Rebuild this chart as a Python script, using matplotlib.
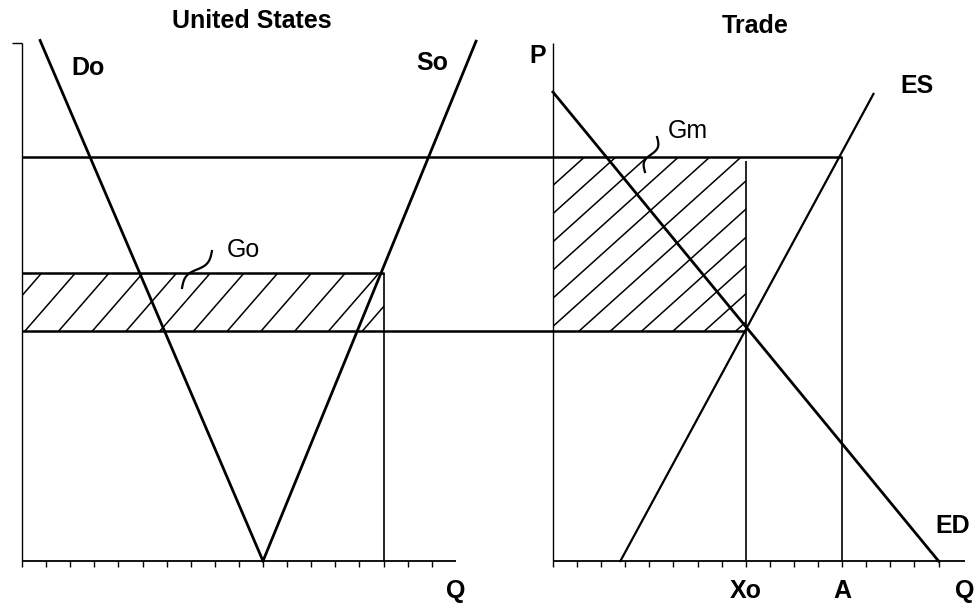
import numpy as np
import matplotlib.pyplot as plt
from matplotlib.patches import Rectangle

plt.rcParams['font.family'] = ['Liberation Sans', 'DejaVu Sans']

# quantities are in axis-tick units, prices use the same scale
us_demand_q = [0.75, 10.0]
us_demand_p = [21.6, 0.0]
us_supply_q = [10.0, 18.84]
us_supply_p = [0.0, 21.57]

ed_q = [0.0, 16.0]
ed_p = [19.46, 0.0]
es_q = [2.8, 13.3]
es_p = [0.0, 19.38]

p_high = 16.78      # top price line
p_support = 11.95   # US support price
p_world = 9.54      # free-trade price
q_support = 15.0    # US supply at support price
q_xo = 8.0
q_a = 12.0
p_axis_top = 21.5

us_ticks = np.arange(0, 18)
trade_ticks = np.arange(0, 17)

# layout: where the trade panel starts on the shared x scale
trade_x0 = 22.03
us_axis_end = 18.0
trade_axis_end = 17.1


def hatch(ax, x0, x1, y0, y1, slope, spacing, phase, lw=1.1):
    clip = Rectangle((x0, y0), x1 - x0, y1 - y0, fill=False, lw=0,
                     transform=ax.transData)
    ax.add_patch(clip)
    run = (y1 - y0) / slope
    start = phase - np.ceil((phase - (x0 - run)) / spacing) * spacing
    for c in np.arange(start, x1 + spacing, spacing):
        ln, = ax.plot([c, c + run], [y0, y1], color='k', lw=lw)
        ln.set_clip_path(clip)


def squiggle(ax, p0, p1, amp=0.17):
    t = np.linspace(0, 1, 60)
    p0, p1 = np.array(p0), np.array(p1)
    d = p1 - p0
    n = np.array([-d[1], d[0]]) / np.hypot(*d)
    pts = p0[:, None] + d[:, None] * t + n[:, None] * amp * np.sin(2 * np.pi * t)
    ax.plot(pts[0], pts[1], color='k', lw=1.6)


fig = plt.figure(figsize=(9.75, 6.04), dpi=100)
ax = fig.add_axes([0, 0, 1, 1])
ax.set_xlim(-22 / 24.1, 953 / 24.1)
ax.set_ylim(-43 / 24.1, 561 / 24.1)
ax.axis('off')

# axes of both panels
ax.vlines([0, trade_x0], 0, p_axis_top, color='k', lw=1.0)
ax.hlines(p_axis_top, -0.4, 0, color='k', lw=1.0)
ax.hlines(0, 0, us_axis_end, color='k', lw=1.3)
ax.hlines(0, trade_x0, trade_x0 + trade_axis_end, color='k', lw=1.3)
ax.plot(us_ticks, np.zeros(len(us_ticks)), ls='none', marker=3, ms=4,
        mew=1.0, color='k')
ax.plot(trade_x0 + trade_ticks, np.zeros(len(trade_ticks)), ls='none',
        marker=3, ms=4, mew=1.0, color='k')

# hatched areas
hatch(ax, 0, q_support, p_world, p_support, 1.15, 1.4, 0.12)
hatch(ax, trade_x0, trade_x0 + q_xo, p_world, p_high, 0.9, 1.3,
      trade_x0 + 1.33 - (p_high - p_world) / 0.9)

# price lines
ax.hlines(p_high, 0, trade_x0 + q_a, color='k', lw=1.8)
ax.hlines(p_support, 0, q_support, color='k', lw=1.8)
ax.hlines(p_world, 0, trade_x0 + q_xo, color='k', lw=1.8)
ax.vlines(q_support, 0, p_support, color='k', lw=1.2)
ax.vlines(trade_x0 + q_xo, 0, p_high - 0.2, color='k', lw=1.2)
ax.vlines(trade_x0 + q_a, 0, p_high, color='k', lw=1.2)

# curves
ax.plot(us_demand_q, us_demand_p, color='k', lw=2.0)
ax.plot(us_supply_q, us_supply_p, color='k', lw=2.0)
ax.plot(trade_x0 + np.array(ed_q), ed_p, color='k', lw=2.0)
ax.plot(trade_x0 + np.array(es_q), es_p, color='k', lw=1.6)

# leaders for the shaded areas
squiggle(ax, (7.88, 12.86), (6.64, 11.33))
squiggle(ax, (26.35, 17.59), (25.85, 16.14))

fs = 18
ax.text(9.54, 22.12, 'United States', ha='center', va='baseline',
        fontsize=fs, fontweight='bold')
ax.text(30.41, 21.91, 'Trade', ha='center', va='baseline',
        fontsize=fs, fontweight='bold')
ax.text(2.74, 20.17, 'Do', ha='center', va='baseline', fontsize=fs, fontweight='bold')
ax.text(17.01, 20.37, 'So', ha='center', va='baseline', fontsize=fs, fontweight='bold')
ax.text(9.17, 12.61, 'Go', ha='center', va='baseline', fontsize=fs)
ax.text(21.41, 20.66, 'P', ha='center', va='baseline', fontsize=fs, fontweight='bold')
ax.text(37.14, 19.42, 'ES', ha='center', va='baseline', fontsize=fs, fontweight='bold')
ax.text(27.63, 17.55, 'Gm', ha='center', va='baseline', fontsize=fs)
ax.text(38.63, 1.16, 'ED', ha='center', va='baseline', fontsize=fs, fontweight='bold')
ax.text(trade_x0 + q_xo, -1.54, 'Xo', ha='center', va='baseline',
        fontsize=fs, fontweight='bold')
ax.text(trade_x0 + q_a, -1.54, 'A', ha='center', va='baseline',
        fontsize=fs, fontweight='bold')
ax.text(trade_x0 + trade_axis_end, -1.54, 'Q', ha='center', va='baseline',
        fontsize=fs, fontweight='bold')
ax.text(us_axis_end, -1.54, 'Q', ha='center', va='baseline',
        fontsize=fs, fontweight='bold')

fig.savefig('out.png', dpi=100)
